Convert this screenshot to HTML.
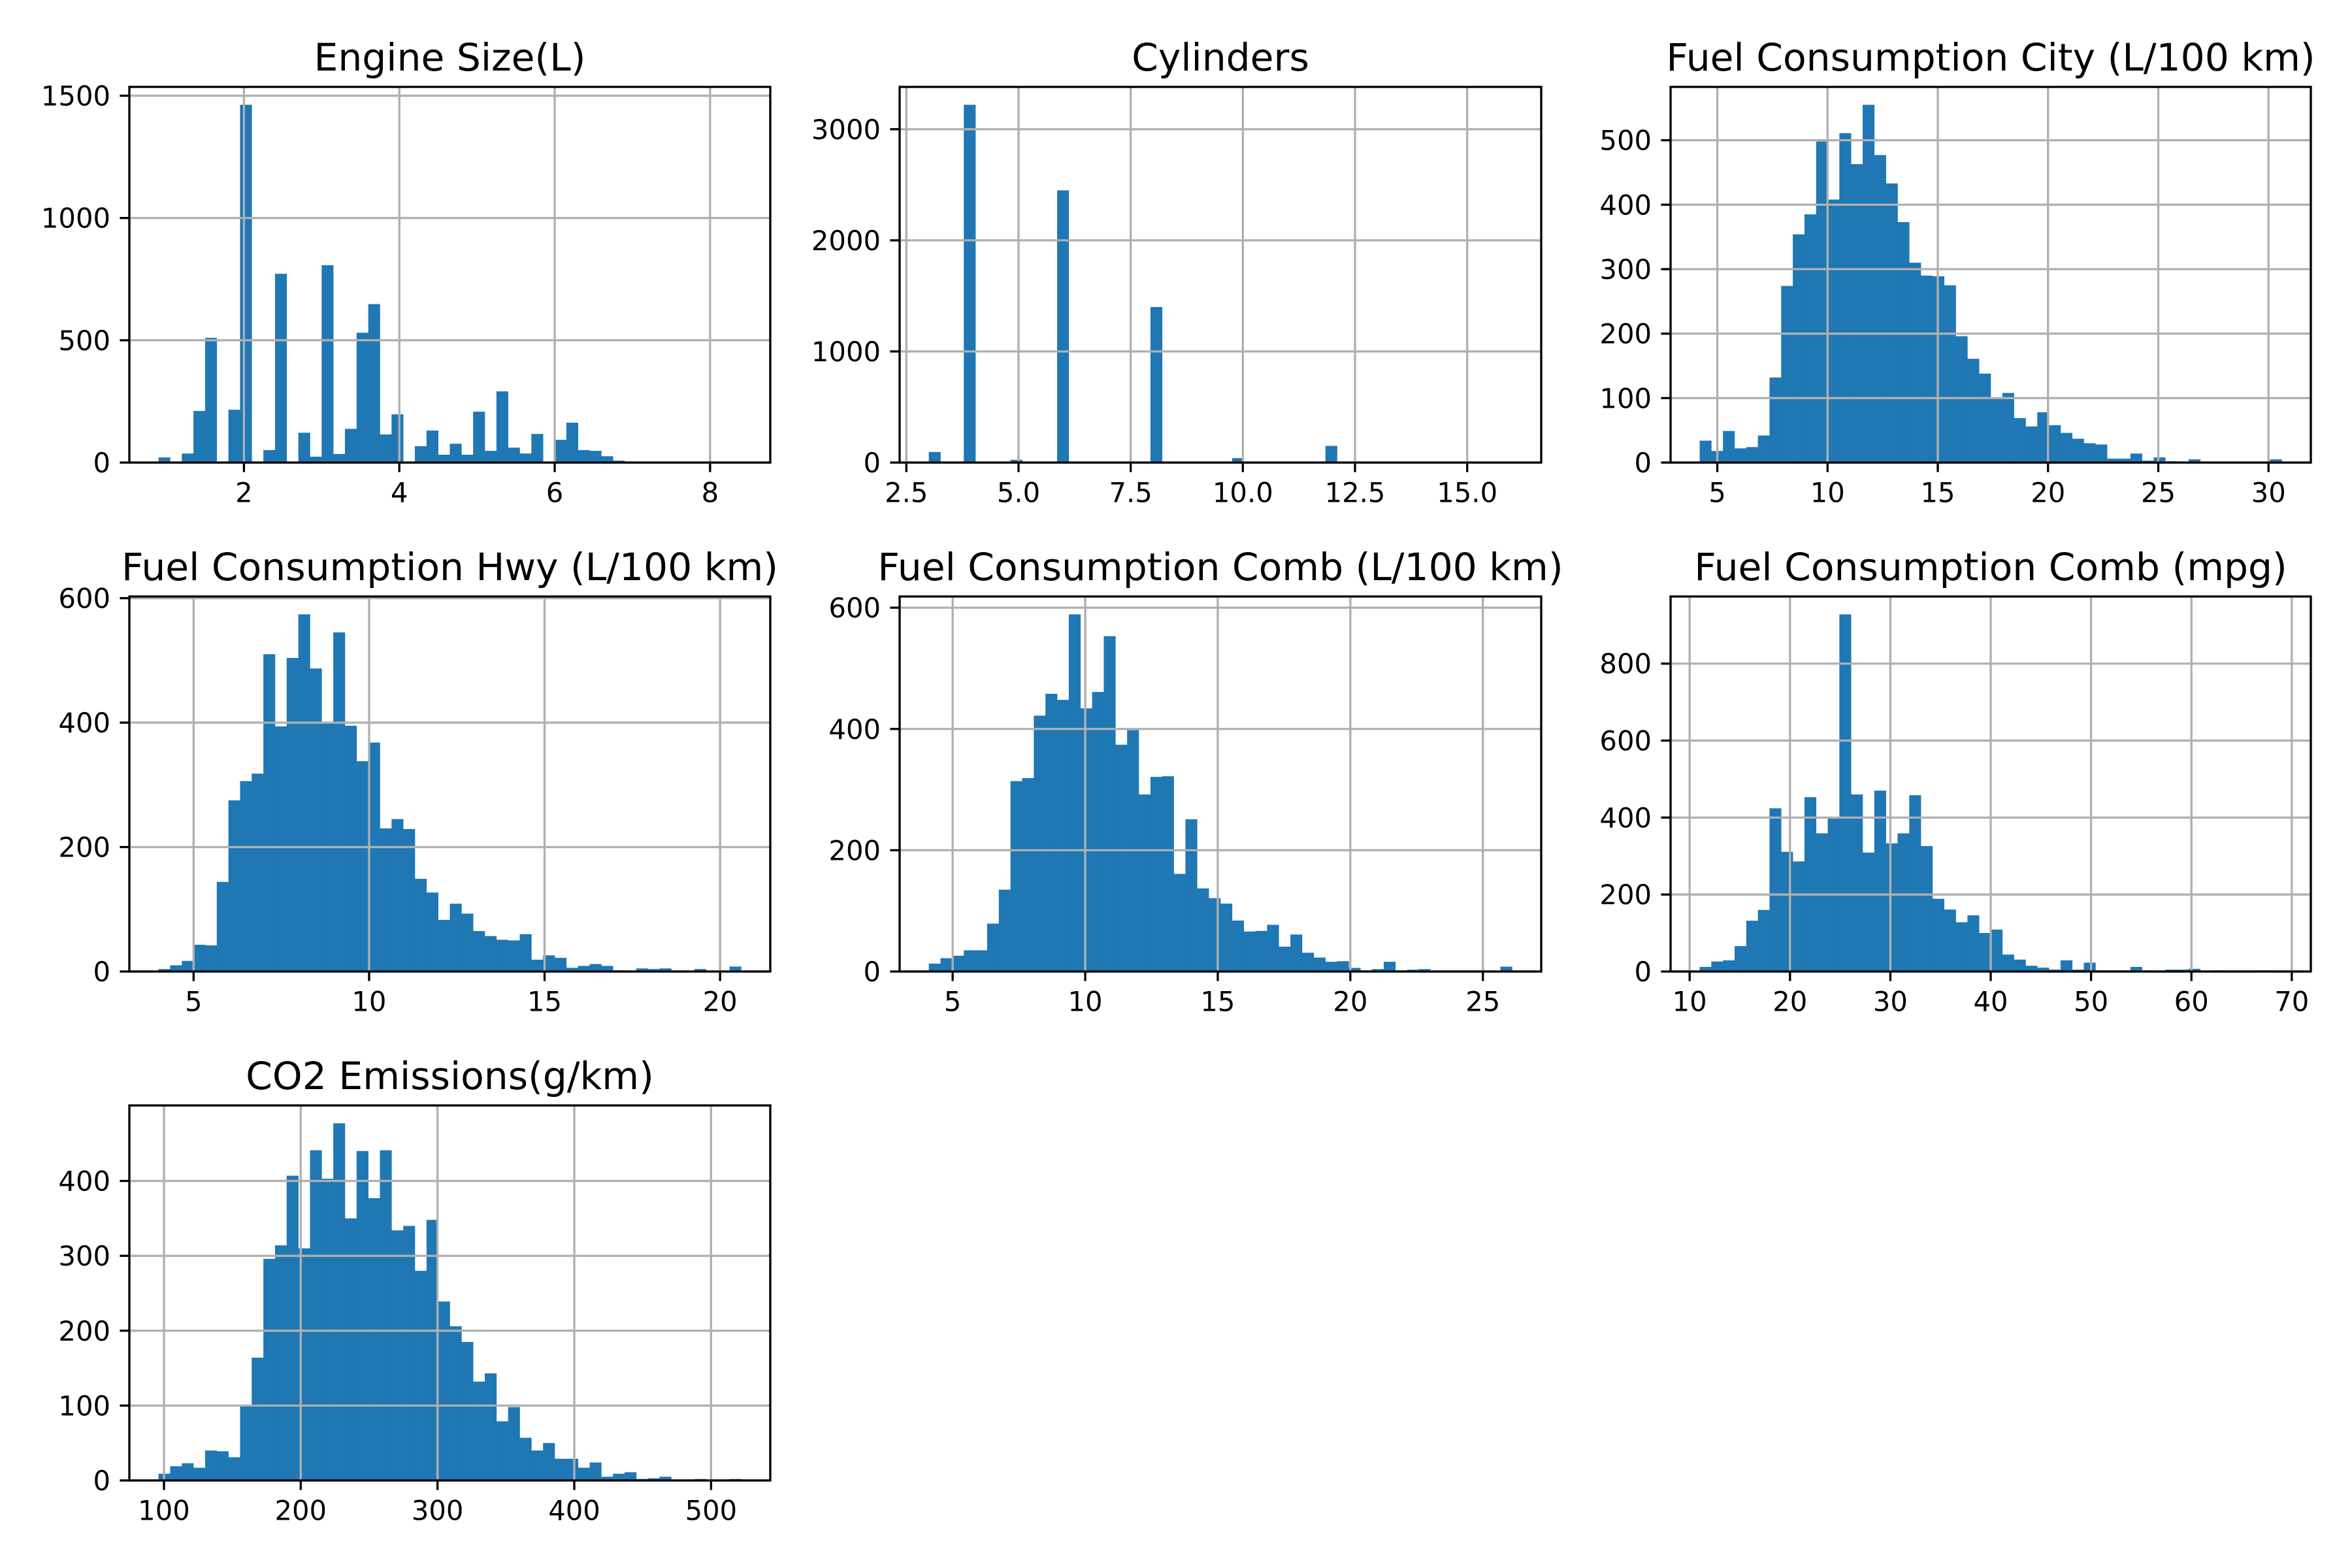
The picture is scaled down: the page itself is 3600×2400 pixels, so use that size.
<!DOCTYPE html>
<html>
<head>
<meta charset="utf-8">
<style>
  html,body{margin:0;padding:0;background:#fff;}
  svg{display:block;}
  text{font-family:"DejaVu Sans","Liberation Sans",sans-serif;fill:#000;}
</style>
</head>
<body>
<svg id="fig" width="3600" height="2400" viewBox="0 0 3600 2400" xmlns="http://www.w3.org/2000/svg">
  <rect x="0" y="0" width="3600" height="2400" fill="#fff"/>
</svg>
<script>
// ---------- data ----------
const engineCounts = [21,0,37,211,510,0,216,1463,4,51,772,0,122,24,807,35,138,531,648,115,197,0,67,131,32,77,32,208,48,291,61,37,117,4,93,163,51,48,26,8,0,0,0,0,0,0,0,0,0,2];
const engineRange = [0.9, 8.4];
const engineXTicks = [2,4,6,8];
const engineYTicks = [0,500,1000,1500];

const cylCounts = [95,0,0,3220,0,0,0,25,0,0,0,2450,0,0,0,0,0,0,0,1400,0,0,0,0,0,0,40,0,0,0,0,0,0,0,150,0,0,0,0,0,0,0,0,0,0,0,0,0,0,3];
const cylRange = [3, 16];
const cylXTicks = ["2.5","5.0","7.5","10.0","12.5","15.0"];
const cylYTicks = [0,1000,2000,3000];

const cityCounts = [34,18,49,22,24,42,132,274,354,385,498,408,511,463,555,477,433,373,310,290,289,275,196,161,138,101,108,69,56,78,58,46,37,30,28,6,6,14,3,8,2,1,5,0,0,0,0,0,1,5];
const cityRange = [4.2, 30.6];
const cityXTicks = [5,10,15,20,25,30];
const cityYTicks = [0,100,200,300,400,500];

const hwyCounts = [4,10,17,43,42,144,275,306,318,510,394,504,574,487,400,545,395,338,368,230,245,229,149,127,83,109,93,65,57,51,50,60,19,26,22,6,9,12,9,2,0,5,4,5,1,0,4,0,0,8];
const hwyRange = [4, 20.6];
const hwyXTicks = [5,10,15,20];
const hwyYTicks = [0,200,400,600];

const combCounts = [13,22,26,35,35,79,135,314,319,422,458,448,589,434,461,553,374,398,292,321,322,161,251,137,121,112,84,66,67,77,41,61,31,23,16,17,6,2,4,16,2,3,4,0,0,0,0,0,0,8];
const combRange = [4.1, 26.1];
const combXTicks = [5,10,15,20,25];
const combYTicks = [0,200,400,600];

const mpgCounts = [12,26,29,66,132,160,424,311,286,453,359,397,928,460,309,470,333,359,458,326,189,161,128,146,100,109,44,31,15,10,5,29,5,23,3,3,3,12,3,1,5,5,7,0,3,0,0,0,3,1];
const mpgRange = [11, 69];
const mpgXTicks = [10,20,30,40,50,60,70];
const mpgYTicks = [0,200,400,600,800];

const co2Counts = [9,19,23,17,40,39,31,99,164,296,314,407,310,441,403,477,350,440,377,441,334,340,280,348,239,206,185,132,143,79,98,57,40,50,29,29,17,24,5,9,11,2,3,5,1,1,2,0,0,2];
const co2Range = [96, 522];
const co2XTicks = [100,200,300,400,500];
const co2YTicks = [0,100,200,300,400];

// ---------- layout ----------
const panels = [
  {key:"engine-size", title:"Engine Size(L)", counts:engineCounts, range:engineRange, xt:engineXTicks, yt:engineYTicks, box:[198,133,1179,708]},
  {key:"cylinders", title:"Cylinders", counts:cylCounts, range:cylRange, xt:cylXTicks, yt:cylYTicks, box:[1377,133,2359,708]},
  {key:"fuel-city", title:"Fuel Consumption City (L/100 km)", counts:cityCounts, range:cityRange, xt:cityXTicks, yt:cityYTicks, box:[2557,133,3537,708]},
  {key:"fuel-hwy", title:"Fuel Consumption Hwy (L/100 km)", counts:hwyCounts, range:hwyRange, xt:hwyXTicks, yt:hwyYTicks, box:[198,913,1179,1487]},
  {key:"fuel-comb", title:"Fuel Consumption Comb (L/100 km)", counts:combCounts, range:combRange, xt:combXTicks, yt:combYTicks, box:[1377,913,2359,1487]},
  {key:"fuel-comb-mpg", title:"Fuel Consumption Comb (mpg)", counts:mpgCounts, range:mpgRange, xt:mpgXTicks, yt:mpgYTicks, box:[2557,913,3537,1487]},
  {key:"co2-emissions", title:"CO2 Emissions(g/km)", counts:co2Counts, range:co2Range, xt:co2XTicks, yt:co2YTicks, box:[198,1692,1179,2266]}
];

const NS = "http://www.w3.org/2000/svg";
const svg = document.getElementById("fig");
const LW = 3.33, TICK = 14.6, TFS = 41.7, TITLEFS = 58.3;

function mk(tag, attrs, parent){
  const e = document.createElementNS(NS, tag);
  for (const k in attrs) e.setAttribute(k, attrs[k]);
  parent.appendChild(e);
  return e;
}

panels.forEach(p => {
  const [x0,y0,x1,y1] = p.box;
  const g = mk("g", {}, svg);
  
  
  const n = p.counts.length;
  const lo = p.range[0], hi = p.range[1];
  const bw = (hi - lo) / n;
  const pad = (hi - lo) * 0.05;
  const xmin = lo - pad, xmax = hi + pad;
  const ymax = Math.max(...p.counts) * 1.05;
  const sx = v => x0 + (v - xmin) / (xmax - xmin) * (x1 - x0);
  const sy = v => y1 - v / ymax * (y1 - y0);

  p.counts.forEach((c, i) => {
    if (c <= 0) return;
    const a = sx(lo + i * bw), b = sx(lo + (i + 1) * bw);
    const r = mk("rect", {x:a, y:sy(c), width:b - a + 0.3, height:y1 - sy(c), fill:"#1f77b4"}, g);
    
    
  });

  p.xt.forEach(t => {
    const v = parseFloat(t);
    if (v < xmin || v > xmax) return;
    const x = sx(v);
    const gl = mk("line", {x1:x, y1:y0, x2:x, y2:y1, stroke:"#b0b0b0", "stroke-width":LW}, g);
    
    
    const tk = mk("line", {x1:x, y1:y1, x2:x, y2:y1 + TICK, stroke:"#000", "stroke-width":LW}, g);
    
    
    const tx = mk("text", {x:x, y:y1 + 29 + TFS * 0.76, "font-size":TFS, "text-anchor":"middle"}, g);
    tx.textContent = String(t);
    
    
  });

  p.yt.forEach(t => {
    if (t > ymax) return;
    const y = sy(t);
    const gl = mk("line", {x1:x0, y1:y, x2:x1, y2:y, stroke:"#b0b0b0", "stroke-width":LW}, g);
    
    
    const tk = mk("line", {x1:x0 - TICK, y1:y, x2:x0, y2:y, stroke:"#000", "stroke-width":LW}, g);
    
    
    const tx = mk("text", {x:x0 - 29, y:y + TFS * 0.36, "font-size":TFS, "text-anchor":"end"}, g);
    tx.textContent = String(t);
    
    
  });

  const sp = mk("rect", {x:x0, y:y0, width:x1 - x0, height:y1 - y0, fill:"none", stroke:"#000", "stroke-width":LW}, g);
  
  

  const ti = mk("text", {x:(x0 + x1) / 2, y:y0 - 25, "font-size":TITLEFS, "text-anchor":"middle"}, g);
  ti.textContent = p.title;
  
  
});
</script>
</body>
</html>
